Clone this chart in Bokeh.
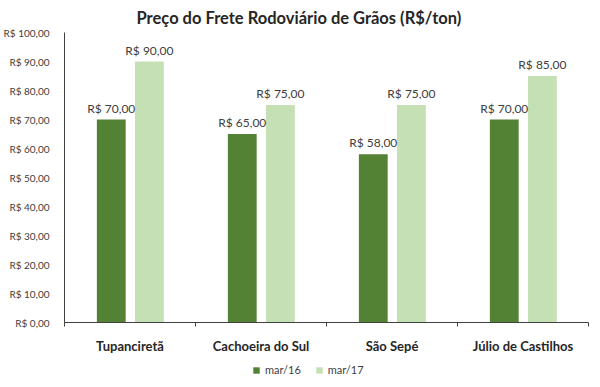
from bokeh.plotting import figure
from bokeh.layouts import column
from bokeh.models import ColumnDataSource, FixedTicker, Range1d, Legend, LegendItem
from bokeh.transform import dodge
from bokeh.core.properties import value
from bokeh.embed import file_html
from bokeh.resources import INLINE

categories = ["Tupanciretã", "Cachoeira do Sul", "São Sepé", "Júlio de Castilhos"]
mar16 = [70, 65, 58, 70]
mar17 = [90, 75, 75, 85]
series_names = ["mar/16", "mar/17"]
y_ticks = [0, 10, 20, 30, 40, 50, 60, 70, 80, 90, 100]

def brl(v):
    return "R$ " + f"{v:.2f}".replace(".", ",")

xpos = [i + 0.5 for i in range(len(categories))]
src = ColumnDataSource(dict(
    x=xpos, a=mar16, b=mar17,
    la=[brl(v) for v in mar16], lb=[brl(v) for v in mar17],
))

FONT = "Lato"
DARK = "#548235"
LIGHT = "#c5e0b4"

p = figure(width=590, height=356, output_backend="svg", toolbar_location=None,
           x_range=Range1d(0, len(categories)), y_range=Range1d(0, 100),
           title="Preço do Frete Rodoviário de Grãos (R$/ton)",
           min_border_left=54, min_border_right=2, min_border_top=25, min_border_bottom=32)
p.outline_line_color = None
p.xgrid.grid_line_color = None
p.ygrid.grid_line_color = None

r1 = p.vbar(x=dodge("x", -0.143, range=p.x_range), top="a", width=0.22, source=src,
            fill_color=DARK, line_color=None)
r2 = p.vbar(x=dodge("x", 0.148, range=p.x_range), top="b", width=0.22, source=src,
            fill_color=LIGHT, line_color=None)

p.text(x=dodge("x", -0.143, range=p.x_range), y="a", text="la", source=src,
       text_align="center", text_baseline="bottom", y_offset=-4,
       text_font=value(FONT), text_font_size="12px", text_color="#404040")
p.text(x=dodge("x", 0.148, range=p.x_range), y="b", text="lb", source=src,
       text_align="center", text_baseline="bottom", y_offset=-4,
       text_font=value(FONT), text_font_size="12px", text_color="#404040")

# y axis
p.yaxis.ticker = FixedTicker(ticks=y_ticks)
p.yaxis.major_label_overrides = {t: brl(t) for t in y_ticks}
p.yaxis.major_tick_line_color = None
p.yaxis.minor_tick_line_color = None
p.yaxis.axis_line_color = "#404040"
p.yaxis.major_label_text_font = FONT
p.yaxis.major_label_text_font_size = "10px"
p.yaxis.major_label_text_color = "#404040"
p.yaxis.major_label_standoff = 9

# x axis
p.xaxis.ticker = FixedTicker(ticks=xpos, minor_ticks=list(range(len(categories) + 1)))
p.xaxis.major_label_overrides = {x: c for x, c in zip(xpos, categories)}
p.xaxis.major_tick_line_color = None
p.xaxis.minor_tick_in = 0
p.xaxis.minor_tick_out = 4
p.xaxis.minor_tick_line_color = "#404040"
p.xaxis.axis_line_color = "#404040"
p.xaxis.major_label_text_font = FONT
p.xaxis.major_label_text_font_size = "13px"
p.xaxis.major_label_text_font_style = "bold"
p.xaxis.major_label_text_color = "#262626"
p.xaxis.major_label_standoff = 9

p.title.align = "left"
p.title.offset = 72
p.title.text_font = FONT
p.title.text_font_size = "16.5px"
p.title.text_font_style = "bold"
p.title.text_color = "#262626"

# legend strip below the chart (swatches only, zero-height bars)
pl = figure(width=590, height=22, output_backend="svg", toolbar_location=None,
            x_axis_type=None, y_axis_type=None,
            x_range=Range1d(0, 1), y_range=Range1d(0, 1),
            min_border_left=0, min_border_right=0, min_border_top=0, min_border_bottom=0)
pl.outline_line_color = None
pl.xgrid.grid_line_color = None
pl.ygrid.grid_line_color = None
swatch = ColumnDataSource(dict(x=[-1.0], top=[0.0]))
lr1 = pl.vbar(x="x", top="top", width=0.01, source=swatch, fill_color=DARK, line_color=None)
lr2 = pl.vbar(x="x", top="top", width=0.01, source=swatch, fill_color=LIGHT, line_color=None)
legend = Legend(items=[LegendItem(label=series_names[0], renderers=[lr1]),
                       LegendItem(label=series_names[1], renderers=[lr2])],
                orientation="horizontal", location=(188, 2),
                glyph_width=8, glyph_height=8, label_text_font=FONT,
                label_text_font_size="11px", label_text_color="#404040",
                spacing=14, padding=2, margin=0, border_line_color=None,
                background_fill_alpha=0, label_standoff=5)
pl.add_layout(legend)

layout = column(p, pl, spacing=0)
open("out.html", "w").write(file_html(layout, INLINE))
